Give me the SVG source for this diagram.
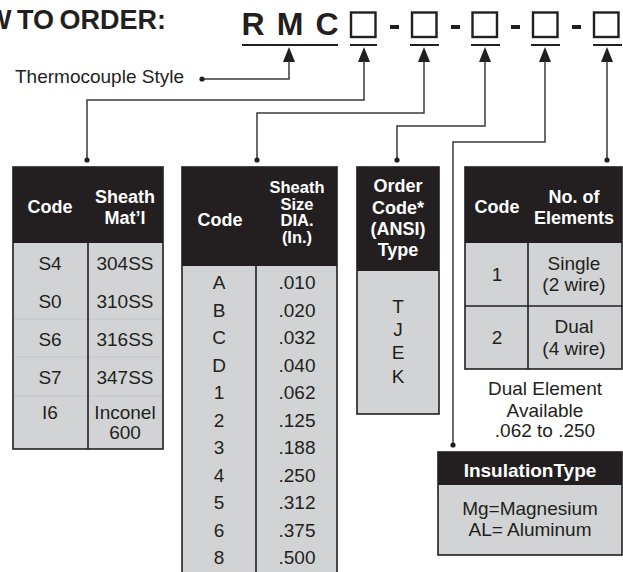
<svg xmlns="http://www.w3.org/2000/svg" xmlns:xlink="http://www.w3.org/1999/xlink" width="623" height="572" viewBox="0 0 623 572">
<style>
text{font-family:"Liberation Sans",Arial,Helvetica,sans-serif;}
.title{font-weight:bold;font-size:27px;fill:#231f20;}
.rmc{font-weight:bold;font-size:32px;fill:#231f20;text-anchor:middle;}
.hd{fill:#231f20;}
.bd{fill:#d1d3d4;stroke:#231f20;stroke-width:1.6;}
.div{stroke:#231f20;stroke-width:1.6;}
.faint{stroke:#c2c4c6;stroke-width:1;}
.ht{font-weight:bold;font-size:18px;fill:#ffffff;text-anchor:middle;}
.ht2{font-weight:bold;font-size:16.5px;fill:#ffffff;text-anchor:middle;}
.bt{font-size:19px;fill:#231f20;text-anchor:middle;}
.box{fill:#ffffff;stroke:#231f20;stroke-width:2.4;}
.ul{stroke:#231f20;stroke-width:2;}
.conn{fill:none;stroke:#3a3a3a;stroke-width:1.5;}
.dot{fill:#231f20;}
.ah{fill:#231f20;}
</style>
<defs>
<path id="ah" d="M0,0 L6,15 L-6,15 Z"/>
</defs>

<g id="title">
<text class="title" x="166" y="29" text-anchor="end" word-spacing="-2">W TO ORDER:</text>
</g>

<g id="code">
<text class="rmc" x="253" y="35">R</text>
<text class="rmc" x="290" y="35">M</text>
<text class="rmc" x="327" y="35">C</text>
<rect class="box" x="351" y="12.5" width="24.5" height="24.5"/>
<rect class="box" x="412" y="12.5" width="24.5" height="24.5"/>
<rect class="box" x="472.5" y="12.5" width="24.5" height="24.5"/>
<rect class="box" x="533" y="12.5" width="24.5" height="24.5"/>
<rect class="box" x="594" y="12.5" width="24.5" height="24.5"/>
<rect class="hd" x="390" y="25" width="9" height="4"/>
<rect class="hd" x="451" y="25" width="9" height="4"/>
<rect class="hd" x="511" y="25" width="9" height="4"/>
<rect class="hd" x="572" y="25" width="9" height="4"/>
<line class="ul" x1="242" y1="45" x2="338" y2="45"/>
<line class="ul" x1="350" y1="45" x2="377" y2="45"/>
<line class="ul" x1="410" y1="45" x2="439" y2="45"/>
<line class="ul" x1="471" y1="45" x2="500" y2="45"/>
<line class="ul" x1="531" y1="45" x2="560" y2="45"/>
<line class="ul" x1="593" y1="45" x2="622" y2="45"/>
</g>

<g id="style-label">
<text class="bt" x="15" y="83" style="text-anchor:start">Thermocouple Style</text>
</g>

<g id="connectors">
<use xlink:href="#ah" class="ah" x="289" y="47"/>
<use xlink:href="#ah" class="ah" x="364" y="47"/>
<use xlink:href="#ah" class="ah" x="424" y="47"/>
<use xlink:href="#ah" class="ah" x="485" y="47"/>
<use xlink:href="#ah" class="ah" x="545" y="47"/>
<use xlink:href="#ah" class="ah" x="607" y="47"/>
<path class="conn" d="M289,61 V79 H202"/>
<path class="conn" d="M364,61 V100 H87 V160"/>
<path class="conn" d="M424,61 V113 H257 V160"/>
<path class="conn" d="M485,61 V126 H397 V160"/>
<path class="conn" d="M545,61 V142 H453 V445"/>
<path class="conn" d="M607,61 V160"/>
<circle class="dot" cx="202" cy="79" r="2.6"/>
<circle class="dot" cx="87" cy="160" r="2.6"/>
<circle class="dot" cx="257" cy="160" r="2.6"/>
<circle class="dot" cx="397" cy="160" r="2.6"/>
<circle class="dot" cx="607" cy="160" r="2.6"/>
<circle class="dot" cx="453" cy="445" r="2.6"/>
</g>

<g id="sheath-material">
<rect class="bd" x="13" y="167" width="150" height="282"/>
<rect class="hd" x="13" y="167" width="150" height="76"/>
<line class="faint" x1="14" y1="319" x2="162" y2="319"/>
<line class="faint" x1="14" y1="357" x2="162" y2="357"/>
<line class="faint" x1="14" y1="396" x2="162" y2="396"/>
<line class="div" x1="88" y1="243" x2="88" y2="449"/>
<text class="ht" x="50" y="213">Code</text>
<text class="ht" x="125" y="203">Sheath</text>
<text class="ht" x="125" y="224">Mat’l</text>
<text class="bt" x="50" y="270">S4</text><text class="bt" x="125" y="270">304SS</text>
<text class="bt" x="50" y="308">S0</text><text class="bt" x="125" y="308">310SS</text>
<text class="bt" x="50" y="346">S6</text><text class="bt" x="125" y="346">316SS</text>
<text class="bt" x="50" y="384">S7</text><text class="bt" x="125" y="384">347SS</text>
<text class="bt" x="50" y="419">I6</text><text class="bt" x="125" y="419">Inconel</text>
<text class="bt" x="125" y="439">600</text>
</g>

<g id="sheath-size">
<rect class="bd" x="182" y="167" width="155" height="420"/>
<rect class="hd" x="182" y="167" width="155" height="99"/>
<line class="div" x1="256" y1="266" x2="256" y2="580"/>
<text class="ht" x="220" y="226">Code</text>
<text class="ht2" x="297" y="193">Sheath</text>
<text class="ht2" x="297" y="209.5">Size</text>
<text class="ht2" x="297" y="226">DIA.</text>
<text class="ht2" x="297" y="242.5">(In.)</text>
<text class="bt" x="219" y="289">A</text><text class="bt" x="297" y="289">.010</text>
<text class="bt" x="219" y="316.5">B</text><text class="bt" x="297" y="316.5">.020</text>
<text class="bt" x="219" y="344">C</text><text class="bt" x="297" y="344">.032</text>
<text class="bt" x="219" y="371.5">D</text><text class="bt" x="297" y="371.5">.040</text>
<text class="bt" x="219" y="399">1</text><text class="bt" x="297" y="399">.062</text>
<text class="bt" x="219" y="426.5">2</text><text class="bt" x="297" y="426.5">.125</text>
<text class="bt" x="219" y="454">3</text><text class="bt" x="297" y="454">.188</text>
<text class="bt" x="219" y="481.5">4</text><text class="bt" x="297" y="481.5">.250</text>
<text class="bt" x="219" y="509">5</text><text class="bt" x="297" y="509">.312</text>
<text class="bt" x="219" y="536.5">6</text><text class="bt" x="297" y="536.5">.375</text>
<text class="bt" x="219" y="564">8</text><text class="bt" x="297" y="564">.500</text>
</g>

<g id="order-code">
<rect class="bd" x="357" y="167" width="82" height="247"/>
<rect class="hd" x="357" y="167" width="82" height="104"/>
<text class="ht" x="398" y="192">Order</text>
<text class="ht" x="398" y="214">Code*</text>
<text class="ht" x="398" y="235">(ANSI)</text>
<text class="ht" x="398" y="256">Type</text>
<text class="bt" x="398" y="313">T</text>
<text class="bt" x="398" y="336">J</text>
<text class="bt" x="398" y="359">E</text>
<text class="bt" x="398" y="383">K</text>
</g>

<g id="elements">
<rect class="bd" x="465" y="167" width="157" height="202"/>
<rect class="hd" x="465" y="167" width="157" height="76"/>
<line class="div" x1="465" y1="306" x2="622" y2="306"/>
<line class="div" x1="528" y1="243" x2="528" y2="369"/>
<text class="ht" x="497" y="213">Code</text>
<text class="ht" x="574" y="203">No. of</text>
<text class="ht" x="574" y="224">Elements</text>
<text class="bt" x="497" y="281">1</text>
<text class="bt" x="574" y="269.5">Single</text>
<text class="bt" x="574" y="291">(2 wire)</text>
<text class="bt" x="497" y="344">2</text>
<text class="bt" x="574" y="333">Dual</text>
<text class="bt" x="574" y="355">(4 wire)</text>
</g>

<g id="dual-note">
<text class="bt" x="545" y="395">Dual Element</text>
<text class="bt" x="545" y="417">Available</text>
<text class="bt" x="545" y="437">.062 to .250</text>
</g>

<g id="insulation">
<rect class="bd" x="438" y="452" width="184" height="103"/>
<rect class="hd" x="438" y="452" width="184" height="33"/>
<text class="ht" x="530" y="477" style="font-size:19px">InsulationType</text>
<text class="bt" x="530" y="515">Mg=Magnesium</text>
<text class="bt" x="530" y="536">AL= Aluminum</text>
</g>
</svg>
